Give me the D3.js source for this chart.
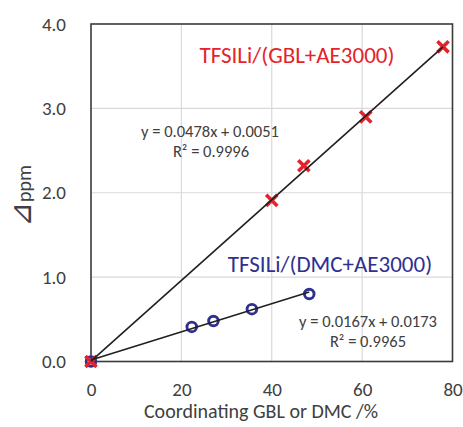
<!DOCTYPE html>
<html><head><meta charset="utf-8">
<script src="https://cdn.jsdelivr.net/npm/d3@7"></script>
<style>
html,body{margin:0;padding:0;background:#fff;}
text{font-family:Carlito,Calibri,Lato,sans-serif;}
</style></head>
<body><svg id="c" width="463" height="427"></svg>
<script>
const gblX = [0, 40.0, 47.1, 60.8, 77.9];
const gblY = [0, 1.91, 2.32, 2.90, 3.73];
const dmcX = [0, 22.3, 27.1, 35.6, 48.3];
const dmcY = [0, 0.41, 0.48, 0.62, 0.80];
const gblFit = {slope: 0.0478, intercept: 0.0051, r2: "0.9996"};
const dmcFit = {slope: 0.0167, intercept: 0.0173, r2: "0.9965"};
const xTicks = [0, 20, 40, 60, 80];
const yTicks = [0, 1, 2, 3, 4];
const xTitle = "Coordinating GBL or DMC /%";
const yTitleSym = "\u22BF";
const yTitleUnit = "ppm";
const gblLabel = "TFSILi/(GBL+AE3000)";
const dmcLabel = "TFSILi/(DMC+AE3000)";

const red = "#E5232A", blue = "#2E3192", ink = "#404040";
const svg = d3.select("#c");
const L = 91, R = 452.5, T = 24, B = 361.5;
const x = d3.scaleLinear().domain([0, 80]).range([L, R]);
const y = d3.scaleLinear().domain([0, 4]).range([B, T]);

// grid
svg.append("g").selectAll("line").data(xTicks.slice(1, -1)).join("line")
  .attr("x1", d => x(d)).attr("x2", d => x(d)).attr("y1", T).attr("y2", B)
  .attr("stroke", "#D9D9D9").attr("stroke-width", 1.2);
svg.append("g").selectAll("line").data(yTicks.slice(1, -1)).join("line")
  .attr("y1", d => y(d)).attr("y2", d => y(d)).attr("x1", L).attr("x2", R)
  .attr("stroke", "#D9D9D9").attr("stroke-width", 1.2);

// axes
const xa = svg.append("g").attr("transform", `translate(0,${B})`)
  .call(d3.axisBottom(x).tickValues(xTicks).tickSize(0).tickPadding(21).tickFormat(d3.format("d")));
const ya = svg.append("g").attr("transform", `translate(${L},0)`)
  .call(d3.axisLeft(y).tickValues(yTicks).tickSize(0).tickPadding(25).tickFormat(d3.format(".1f")));
[xa, ya].forEach(a => {
  a.select(".domain").remove();
  a.selectAll("text").attr("fill", ink).attr("font-size", 19);
});

// border
svg.append("rect").attr("x", L).attr("y", T).attr("width", R - L).attr("height", B - T)
  .attr("fill", "none").attr("stroke", "#3a3a3a").attr("stroke-width", 1.6);

// markers: circles
svg.append("g").selectAll("circle").data(dmcX.map((d, i) => [d, dmcY[i]])).join("circle")
  .attr("cx", d => x(d[0])).attr("cy", d => y(d[1])).attr("r", 4.8)
  .attr("fill", "none").attr("stroke", blue).attr("stroke-width", 2.9);
// markers: crosses
const s = 5.6;
svg.append("g").selectAll("path").data(gblX.map((d, i) => [d, gblY[i]])).join("path")
  .attr("d", d => `M${x(d[0]) - s},${y(d[1]) - s}L${x(d[0]) + s},${y(d[1]) + s}M${x(d[0]) - s},${y(d[1]) + s}L${x(d[0]) + s},${y(d[1]) - s}`)
  .attr("stroke", red).attr("stroke-width", 3.6).attr("fill", "none");

// trendlines
const line = d3.line().x(d => x(d[0])).y(d => y(d[1]));
[[gblFit, gblX], [dmcFit, dmcX]].forEach(([f, xs]) => {
  const x0 = d3.min(xs), x1 = d3.max(xs);
  svg.append("path").attr("d", line([[x0, f.slope * x0 + f.intercept], [x1, f.slope * x1 + f.intercept]]))
    .attr("stroke", "#231F20").attr("stroke-width", 1.6).attr("fill", "none");
});

// labels
svg.append("text").attr("x", 297).attr("y", 63).attr("text-anchor", "middle")
  .attr("fill", red).attr("font-size", 23).text(gblLabel);
svg.append("text").attr("x", 330).attr("y", 272).attr("text-anchor", "middle")
  .attr("fill", blue).attr("font-size", 23).text(dmcLabel);

const eq = (f) => `y = ${f.slope}x + ${f.intercept}`;
svg.append("text").attr("x", 210).attr("y", 137).attr("text-anchor", "middle")
  .attr("fill", ink).attr("font-size", 16.5).text(eq(gblFit));
svg.append("text").attr("x", 211).attr("y", 157).attr("text-anchor", "middle")
  .attr("fill", ink).attr("font-size", 16.5).text(`R\u00B2 = ${gblFit.r2}`);
svg.append("text").attr("x", 368).attr("y", 327).attr("text-anchor", "middle")
  .attr("fill", ink).attr("font-size", 16.5).text(eq(dmcFit));
svg.append("text").attr("x", 368).attr("y", 347).attr("text-anchor", "middle")
  .attr("fill", ink).attr("font-size", 16.5).text(`R\u00B2 = ${dmcFit.r2}`);

// axis titles
svg.append("text").attr("x", 261).attr("y", 418).attr("text-anchor", "middle")
  .attr("fill", ink).attr("font-size", 20).text(xTitle);
const yt = svg.append("text").attr("transform", "translate(31,196) rotate(-90)").attr("text-anchor", "middle")
  .attr("fill", ink).attr("font-size", 20);
yt.append("tspan").attr("font-size", 30).text(yTitleSym);
yt.append("tspan").text(yTitleUnit);
</script></body></html>
